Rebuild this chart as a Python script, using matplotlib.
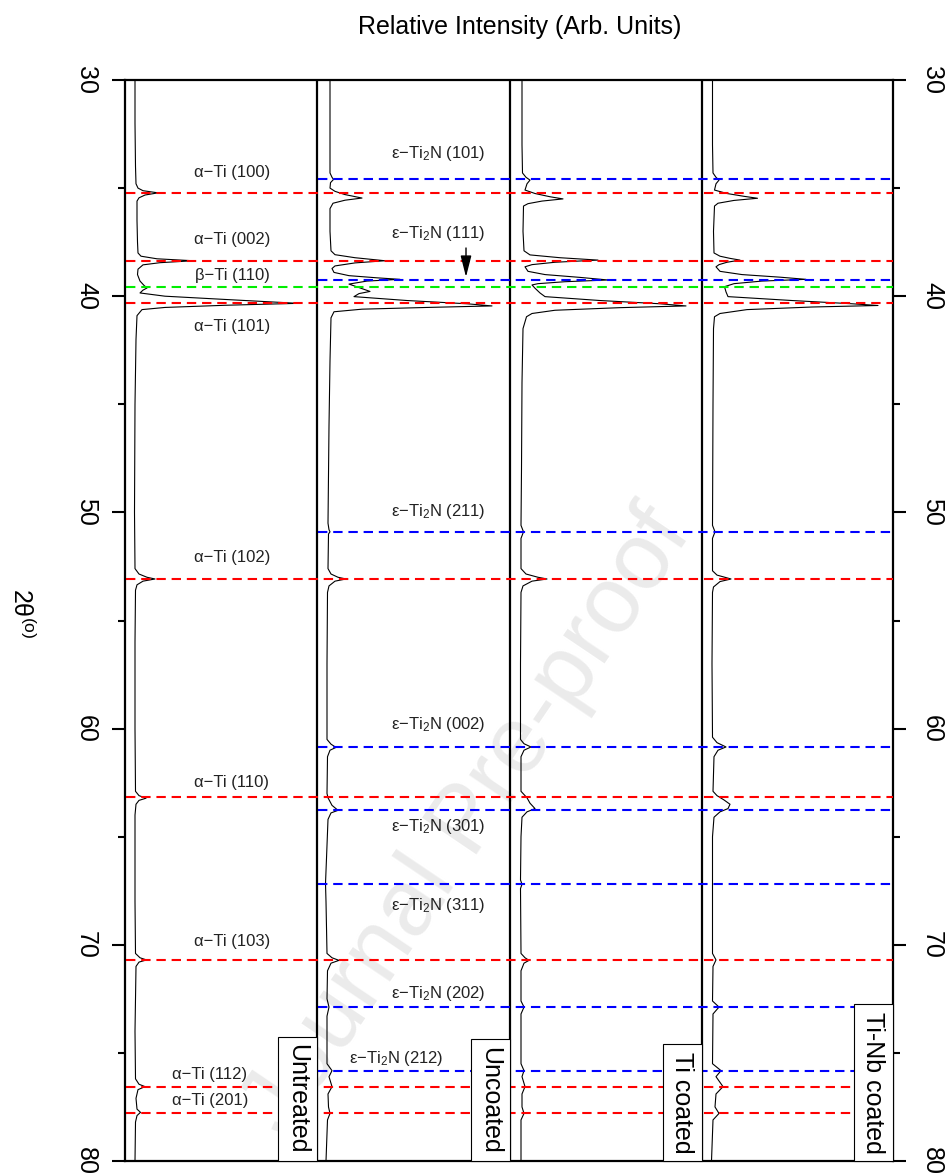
import matplotlib; matplotlib.use("Agg")
import matplotlib.pyplot as plt
import numpy as np
from matplotlib.transforms import offset_copy

plt.rcParams.update({"font.family": ["Liberation Sans", "DejaVu Sans"],
                     "mathtext.fontset": "custom", "mathtext.rm": "Liberation Sans",
                     "mathtext.it": "Liberation Sans:italic", "mathtext.default": "regular"})

# digitised patterns: (2theta, intensity offset in panel units, panel width = 192)
untreated = [(30.0, 10), (32.0, 10), (34.0, 10.5), (34.8, 11), (35.0, 13), (35.12, 18), (35.22, 33),
             (35.32, 20), (35.45, 14), (35.6, 12), (36.5, 12), (37.5, 12.5), (38.0, 13), (38.15, 16),
             (38.27, 32), (38.36, 68), (38.45, 35), (38.55, 18), (38.75, 13), (39.0, 12.5), (39.3, 15),
             (39.5, 19), (39.62, 22), (39.72, 18), (39.85, 15), (40.0, 40), (40.15, 100), (40.33, 173),
             (40.42, 100), (40.52, 40), (40.62, 17), (40.9, 12), (42.0, 11), (45.0, 10), (50.0, 9.5),
             (52.6, 10), (52.85, 14), (53.0, 22), (53.08, 30), (53.18, 18), (53.35, 12), (53.6, 10.5),
             (56.0, 10), (60.0, 10), (62.9, 10.5), (63.1, 14), (63.22, 21), (63.32, 14), (63.5, 11),
             (64.0, 10), (68.0, 10), (70.4, 10.5), (70.6, 15), (70.7, 21.5), (70.8, 14), (71.0, 11),
             (74.0, 10), (76.2, 10.5), (76.45, 14), (76.56, 20), (76.7, 13), (77.1, 11), (77.6, 12),
             (77.75, 15.5), (77.9, 12), (78.2, 10.5), (80.0, 10)]
uncoated = [(30.0, 13), (33.0, 13), (34.3, 13), (34.5, 15), (34.6, 16.5), (34.75, 13.5), (35.0, 13),
            (35.15, 18), (35.3, 28), (35.46, 45), (35.56, 28), (35.7, 16), (35.95, 13), (37.0, 13),
            (37.9, 14), (38.08, 18), (38.22, 38), (38.36, 68), (38.46, 38), (38.6, 18), (38.72, 15),
            (38.9, 17), (39.05, 32), (39.15, 60), (39.22, 83), (39.3, 50), (39.44, 32), (39.6, 42),
            (39.78, 53), (39.88, 42), (40.02, 37), (40.2, 90), (40.35, 150), (40.45, 175), (40.52, 110),
            (40.6, 45), (40.72, 17), (41.0, 14), (43.0, 13), (46.0, 12), (50.5, 11), (50.8, 12),
            (50.9, 13), (51.0, 11.5), (52.6, 11), (52.85, 14), (53.0, 21), (53.08, 29), (53.18, 18),
            (53.4, 12), (53.7, 10.5), (57.0, 10), (60.5, 10), (60.72, 14), (60.87, 19), (61.0, 13),
            (61.3, 10.5), (63.0, 10), (63.2, 11), (63.55, 15), (63.78, 21), (63.9, 14), (64.2, 11),
            (66.0, 9.5), (67.17, 8.5), (68.0, 9), (70.4, 10), (70.6, 15), (70.72, 22), (70.85, 14),
            (71.2, 10.5), (72.5, 10), (72.88, 12), (73.3, 10), (75.5, 10), (75.82, 15), (76.1, 12),
            (76.56, 15), (76.9, 11), (77.5, 11.5), (77.8, 13), (78.1, 10.5), (80.0, 9)]
ti_coated = [(30.0, 12), (33.0, 12), (34.3, 12.5), (34.5, 16), (34.63, 20), (34.8, 17), (35.09, 15),
             (35.25, 25), (35.4, 40), (35.5, 53), (35.6, 32), (35.72, 18), (35.83, 13.5), (37.0, 13),
             (37.9, 14), (38.09, 20), (38.22, 50), (38.33, 88), (38.43, 45), (38.54, 22), (38.64, 15),
             (38.85, 18), (39.0, 35), (39.13, 70), (39.25, 98), (39.33, 55), (39.42, 28), (39.48, 22),
             (39.63, 25), (39.85, 30), (40.02, 35), (40.2, 90), (40.35, 150), (40.45, 176), (40.53, 110),
             (40.65, 45), (40.8, 22), (40.95, 16.5), (41.5, 13), (44.0, 12), (48.0, 11.5), (50.6, 11),
             (50.9, 13.5), (51.2, 11), (52.6, 11), (52.85, 16), (53.0, 28), (53.08, 37), (53.18, 22),
             (53.4, 13), (53.7, 11), (57.0, 10.5), (60.5, 10.5), (60.7, 14), (60.85, 21), (61.0, 14),
             (61.3, 11), (62.9, 11), (63.1, 15), (63.2, 17), (63.45, 20), (63.7, 25), (63.85, 17),
             (64.1, 12), (65.0, 11), (67.0, 10.5), (67.2, 12), (67.4, 10.5), (70.4, 11), (70.6, 15),
             (70.72, 19), (70.85, 14), (71.2, 11), (72.6, 11), (72.88, 14), (73.2, 11), (75.5, 11),
             (75.82, 14), (76.1, 12), (76.56, 15), (76.9, 12), (77.5, 12), (77.8, 14), (78.1, 11), (80.0, 11)]
tinb_coated = [(30.0, 10.5), (33.0, 10.5), (34.3, 11), (34.5, 14), (34.63, 17), (34.8, 14), (35.09, 12.5),
               (35.25, 25), (35.38, 42), (35.47, 55.5), (35.57, 32), (35.7, 16), (35.83, 12.5), (37.0, 11.5),
               (38.0, 12), (38.15, 18), (38.25, 28), (38.33, 38), (38.43, 25), (38.54, 17), (38.64, 14),
               (38.85, 18), (39.0, 40), (39.12, 78), (39.22, 104), (39.3, 60), (39.42, 32), (39.56, 22.5),
               (39.8, 24), (40.02, 26), (40.2, 90), (40.35, 150), (40.43, 176), (40.5, 110), (40.62, 45),
               (40.8, 18), (40.95, 12.5), (41.5, 11.5), (45.0, 11), (50.6, 10.5), (50.9, 13), (51.2, 10.5),
               (52.7, 10.5), (52.9, 15), (53.08, 29), (53.2, 18), (53.45, 11.5), (53.7, 10.5), (57.0, 10),
               (60.4, 10.5), (60.65, 15), (60.85, 24), (61.0, 16), (61.3, 12), (62.9, 11), (63.1, 15),
               (63.3, 22), (63.5, 28), (63.7, 26), (63.85, 18), (64.1, 12), (65.0, 10.5), (70.4, 10.5),
               (70.7, 14), (71.0, 11), (72.6, 10.5), (72.88, 17), (73.2, 11), (75.5, 10.5), (75.82, 19),
               (76.1, 14), (76.56, 21), (76.9, 14), (77.5, 13), (77.8, 17), (78.1, 11), (80.0, 9.5)]
samples = [untreated, uncoated, ti_coated, tinb_coated]
sample_names = ["Untreated", "Uncoated", "Ti coated", "Ti-Nb coated"]

# reference peak positions (2theta) and labels
alpha_pos = [35.21, 38.36, 40.33, 53.08, 63.18, 70.70, 76.56, 77.80]
alpha_hkl = ["(100)", "(002)", "(101)", "(102)", "(110)", "(103)", "(112)", "(201)"]
alpha_lab_t = [34.3, 37.4, 41.41, 52.1, 62.5, 69.85, 76.0, 77.18]
beta_pos = [39.57]
eps_pos = [34.58, 39.25, 50.90, 60.85, 63.76, 67.17, 72.88, 75.82]
eps_hkl = ["(101)", "(111)", "(211)", "(002)", "(301)", "(311)", "(202)", "(212)"]
eps_lab_t = [33.42, 37.08, 49.97, 59.83, 64.54, 68.16, 72.23, 75.25]

W, H = 953, 1173
fig = plt.figure(figsize=(W / 100, H / 100), dpi=100)
ax = fig.add_axes([125 / W, 1 - 1161 / H, 768 / W, 1081 / H])
ax.patch.set_visible(False)
ax.set_xlim(0, 768); ax.set_ylim(80, 30)

# journal watermark
fig.text(468 / W, 1 - 822 / H, "Journal Pre-proof", rotation=56, fontsize=68, color="#ebebeb",
         ha="center", va="center", zorder=-5)

x0s = [0, 192, 385, 577]
for x0, pts in zip(x0s, samples):
    tt, inten = np.array(pts).T
    ax.plot(x0 + inten, tt, color="k", lw=0.8, zorder=3)
for x in x0s[1:]:
    ax.axvline(x, color="k", lw=1.6, zorder=4)

dash = (0, (4.5, 2.8))
for t in alpha_pos:
    ax.plot([1, 768], [t, t], color="#ff0000", lw=1.5, ls=dash, zorder=5)
for t in eps_pos:
    ax.plot([193, 768], [t, t], color="#0000ff", lw=1.5, ls=dash, zorder=5)
for t in beta_pos:
    ax.plot([1, 768], [t, t], color="#00ee00", lw=1.5, ls=dash, zorder=5)

lab_kw = dict(ha="center", va="center", fontsize=12, color="#222222", zorder=6)
for hkl, t in zip(alpha_hkl, alpha_lab_t):
    ax.text(85 if hkl in ("(112)", "(201)") else 107, t, "α−Ti " + hkl, **lab_kw)
ax.text(107, 39.02, "β−Ti (110)", **lab_kw)
for hkl, t in zip(eps_hkl, eps_lab_t):
    ax.text(271 if hkl == "(212)" else 313, t, r"ε−$\mathregular{Ti_2N}$ " + hkl, **lab_kw)

ax.annotate("", xy=(341, 39.11), xytext=(341, 37.77),
            arrowprops=dict(arrowstyle="-|>,head_length=1.3,head_width=0.33", color="k", lw=1,
                            mutation_scale=10, shrinkA=0, shrinkB=0), zorder=7)

pad = 0.3 * 18
tr = offset_copy(ax.transData, fig=fig, x=-pad, y=pad, units="points")
for xe, name in zip(x0s[1:] + [768], sample_names):
    ax.text(xe, 80, name, rotation=-90, ha="right", va="bottom", fontsize=18, transform=tr, zorder=8,
            bbox=dict(boxstyle="square,pad=0.3", fc="white", ec="k", lw=0.8))

ax.set_xticks([])
ax.set_yticks(range(30, 81, 10))
ax.set_yticks(range(35, 80, 10), minor=True)
ax.tick_params(axis="y", which="major", direction="out", length=9.5, width=1.5, labelsize=18, pad=10,
               left=True, right=True, labelleft=True, labelright=True, labelrotation=-90)
ax.tick_params(axis="y", which="minor", direction="out", length=5, width=1.5, left=True, right=True)
for tk in ax.yaxis.get_major_ticks():
    tk.label1.set_va("center"); tk.label2.set_va("center")
for s in ax.spines.values():
    s.set_linewidth(1.6)

fig.text(520 / W, 1 - 27 / H, "Relative Intensity (Arb. Units)", ha="center", va="center", fontsize=18)
fig.text(22 / W, 1 - 613 / H, "2θ$^{(o)}$", rotation=-90, ha="center", va="center", fontsize=18)

fig.savefig("out.png", dpi=100)
